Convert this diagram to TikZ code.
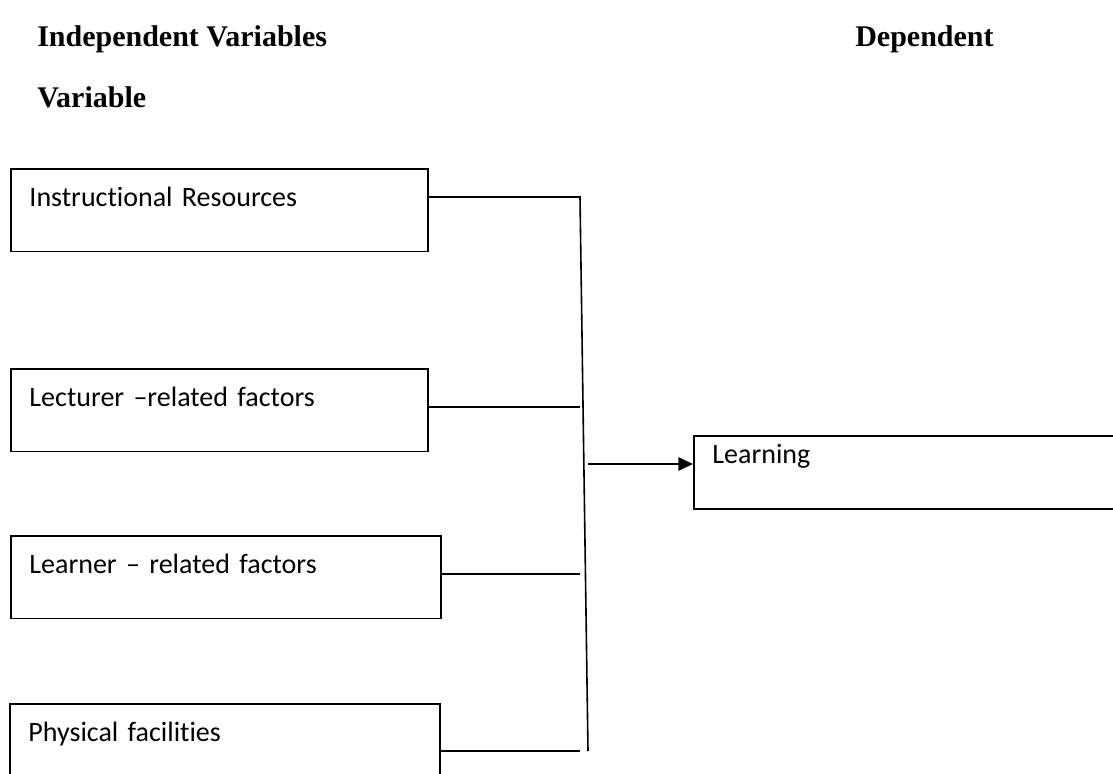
\documentclass[tikz,border=0pt]{standalone}
\usepackage{fontspec}
\setmainfont{Carlito}[Ligatures={NoCommon}, WordSpace=0.7]
\newfontfamily\headfont{Liberation Serif}
\usetikzlibrary{arrows.meta}
\tikzset{
    factor/.style={draw, line width=1.2pt, anchor=north west, align=left,
        inner xsep=14pt, inner ysep=0pt, text height=28pt, text depth=34pt,
        font=\fontsize{21}{25}\selectfont},
    heading/.style={anchor=base west, inner sep=0pt,
        font=\headfont\bfseries\fontsize{22.5}{27}\selectfont},
    link/.style={line width=1.2pt}
}
\begin{document}
\begin{tikzpicture}[x=0.75pt, y=-0.75pt]
                \clip (0,0) rectangle (1113,774);
                \fill[white] (0,0) rectangle (1113,774);
                % headings
                \node[heading] (indep) at (37,47) {Independent Variables};
                \node[heading] (dep) at (855,47) {Dependent};
                \node[heading] (var) at (37,108) {Variable};
                % boxes
                \node[factor, text width=284.75pt] (res) at (10,168) {Instructional Resources};
                \node[factor, text width=284.75pt] (lec) at (10,368) {Lecturer --related factors};
                \node[factor, text width=294.5pt] (lea) at (10,535) {Learner -- related factors};
                \node[factor, text width=294.5pt] (phy) at (9,703) {Physical facilities};
                \node[factor, text width=290.75pt, text height=21pt, text depth=33.75pt] (learn) at (693,435) {Learning};
                % junction points
                \coordinate (j1) at (580,197);
                \coordinate (j2) at (580,407);
                \coordinate (j3) at (580,574);
                \coordinate (j4) at (580,751);
                \coordinate (jend) at (588,751);
                \coordinate (jout) at (588,464);
                \draw[link] (res.east |- j1) -- (j1) -- (jend);
                \draw[link] (lec.east |- j2) -- (j2);
                \draw[link] (lea.east |- j3) -- (j3);
                \draw[link] (phy.east |- j4) -- (j4);
                \draw[link, -{Triangle[length=11pt, width=10pt]}] (jout) -- (learn.west |- jout);
            \end{tikzpicture}
\end{document}
